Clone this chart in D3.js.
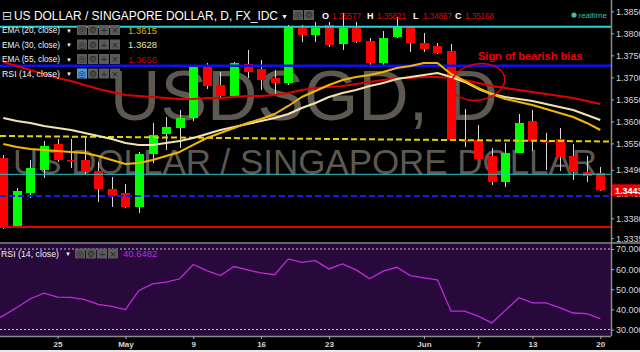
<!DOCTYPE html>
<html>
<head>
<meta charset="utf-8">
<script src="https://cdn.jsdelivr.net/npm/d3@7"></script>
<style>
body { margin: 0; background: #000; }
svg { display: block; font-family: "Liberation Sans", Arial, sans-serif; }
</style>
</head>
<body>
<script>
// daily candles, USD/SGD, 19 Apr - 20 Jun 2016
var dates = [
  "2016-04-19","2016-04-20","2016-04-21","2016-04-22","2016-04-25","2016-04-26","2016-04-27","2016-04-28","2016-04-29",
  "2016-05-02","2016-05-03","2016-05-04","2016-05-05","2016-05-06","2016-05-09","2016-05-10","2016-05-11","2016-05-12","2016-05-13",
  "2016-05-16","2016-05-17","2016-05-18","2016-05-19","2016-05-20","2016-05-23","2016-05-24","2016-05-25","2016-05-26","2016-05-27",
  "2016-05-30","2016-05-31","2016-06-01","2016-06-02","2016-06-03","2016-06-06","2016-06-07","2016-06-08","2016-06-09","2016-06-10",
  "2016-06-13","2016-06-14","2016-06-15","2016-06-16","2016-06-17","2016-06-20"
];
var opens = [1.35169,1.33603,1.34375,1.34897,1.35487,1.35124,1.35124,1.34874,1.34466,
  1.34375,1.34057,1.35260,1.35714,1.35850,1.36077,1.37235,1.36826,1.36577,1.37303,
  1.37190,1.36985,1.36872,1.38120,1.37961,1.38188,1.37757,1.38120,1.37825,1.37326,
  1.37916,1.38143,1.37780,1.37712,1.37598,1.35578,1.35578,1.35215,1.34625,1.35283,
  1.36009,1.35555,1.35601,1.35215,1.34852,1.34829];
var highs = [1.35237,1.34488,1.35124,1.35555,1.35601,1.35601,1.35646,1.35079,1.34738,
  1.34579,1.35306,1.35964,1.36100,1.36259,1.37280,1.37326,1.37122,1.37349,1.37621,
  1.37394,1.37167,1.38188,1.38188,1.38257,1.38257,1.38461,1.38257,1.37893,1.38052,
  1.38370,1.38166,1.38007,1.37780,1.37757,1.36282,1.35918,1.35396,1.35510,1.36168,
  1.36259,1.35737,1.35850,1.35487,1.35215,1.34965];
var lows = [1.33558,1.33580,1.34261,1.34715,1.35079,1.34942,1.34806,1.34171,1.34057,
  1.34034,1.33921,1.35056,1.35351,1.35396,1.36009,1.36736,1.36531,1.36554,1.36985,
  1.36713,1.36599,1.36826,1.37803,1.37803,1.37689,1.37621,1.37780,1.37235,1.37235,
  1.37893,1.37576,1.37576,1.37530,1.35555,1.35419,1.35147,1.34556,1.34511,1.35283,
  1.35328,1.34897,1.34874,1.34670,1.34625,1.34420];
var closes = [1.33626,1.34420,1.34942,1.35442,1.35124,1.35101,1.34852,1.34466,1.34307,
  1.34057,1.35260,1.35691,1.35873,1.36077,1.37235,1.36804,1.36577,1.37326,1.37122,
  1.36940,1.36872,1.38143,1.37961,1.38120,1.37734,1.38120,1.37803,1.37326,1.37893,
  1.38143,1.37780,1.37644,1.37553,1.35578,1.35555,1.35147,1.34625,1.35283,1.35964,
  1.35555,1.35533,1.35192,1.34852,1.34761,1.34435];

var ema20 = [1.35487,1.35419,1.35374,1.35351,1.35328,1.35306,1.35283,1.35215,1.35124,
  1.35033,1.35056,1.35124,1.35215,1.35306,1.35465,1.35623,1.35737,1.35850,1.35964,
  1.36055,1.36168,1.36350,1.36554,1.36690,1.36826,1.36940,1.37008,1.37054,1.37122,
  1.37212,1.37258,1.37326,1.37326,1.37076,1.36917,1.36758,1.36622,1.36509,1.36441,
  1.36373,1.36282,1.36191,1.36100,1.35964,1.35805];
var ema30 = [1.36077,1.36009,1.35964,1.35896,1.35850,1.35805,1.35737,1.35669,1.35601,
  1.35510,1.35465,1.35465,1.35510,1.35555,1.35623,1.35714,1.35805,1.35873,1.35941,
  1.36009,1.36077,1.36168,1.36304,1.36418,1.36554,1.36645,1.36713,1.36804,1.36872,
  1.36963,1.37008,1.37054,1.37099,1.37008,1.36895,1.36736,1.36622,1.36554,1.36509,
  1.36463,1.36395,1.36327,1.36259,1.36146,1.36032];
var ema55 = [1.37349,1.37258,1.37167,1.37076,1.36985,1.36917,1.36826,1.36736,1.36668,
  1.36599,1.36577,1.36554,1.36531,1.36509,1.36509,1.36531,1.36531,1.36554,1.36577,
  1.36577,1.36599,1.36645,1.36713,1.36758,1.36781,1.36804,1.36849,1.36895,1.36940,
  1.36985,1.36985,1.37008,1.37008,1.36985,1.36940,1.36872,1.36804,1.36758,1.36713,
  1.36668,1.36622,1.36577,1.36531,1.36463,1.36395];
var rsi14 = [35.9,40.9,45.3,48.1,46.1,46.0,44.8,42.5,41.5,
  39.9,49.4,52.7,53.5,55.2,62.3,59.3,56.8,61.3,59.6,
  58.1,57.2,65.1,63.4,64.2,60.1,62.6,59.6,55.2,59.0,
  60.9,56.8,55.7,54.7,39.1,39.1,36.6,33.3,39.5,45.8,
  43.2,43.2,40.9,38.2,37.9,35.4];

// drawn levels
var cyanLevels = [1.38150, 1.34799];
var blueLevel = 1.37265;
var blueDashLevel = 1.34307;
var redLevel = 1.33603;
var yellowTrend = [1.35669, 1.35544];   // left edge, right edge

var priceTicks = [1.385, 1.38, 1.375, 1.37, 1.365, 1.36, 1.355, 1.349, 1.3435, 1.338, 1.3335];
var rsiTicks = [70, 60, 50, 40, 30];
var rsiBands = [70, 30];
var xTickDates = ["2016-04-25","2016-05-02","2016-05-09","2016-05-16","2016-05-23","2016-06-01","2016-06-07","2016-06-13","2016-06-20"];
var xTickLabels = ["25","May","9","16","23","Jun","7","13","20"];

var title = "US DOLLAR / SINGAPORE DOLLAR, D, FX_IDC";
var ohlcLabels = ["O","H","L","C"];
var ohlcValues = ["1.35577","1.35821","1.34867","1.35168"];
var legendLabels = ["EMA (20, close)","EMA (30, close)","EMA (55, close)"];
var legendValues = ["1.3615","1.3628","1.3656"];
var rsiLabel = "RSI (14, close)";
var rsiValue = "40.6482";
var lastPrice = 1.34435;

var svgWidth = 640, svgHeight = 352;
var plotRight = 611, priceBottom = 243, rsiTop = 244, rsiBottom = 336;
var emaColors = ["#f2b705", "#f3e3b0", "#e00000"];
var valueColors = ["#e8a800", "#efe0a6", "#c40000"];
var ghost = "#5d5950";

var svg = d3.select("body").append("svg")
    .attr("width", svgWidth)
    .attr("height", svgHeight)
    .style("background", "#000");

var defs = svg.append("defs");
defs.append("clipPath").attr("id", "priceClip")
    .append("rect").attr("x", 0).attr("y", 0).attr("width", plotRight).attr("height", priceBottom);
defs.append("clipPath").attr("id", "rsiClip")
    .append("rect").attr("x", 0).attr("y", rsiTop).attr("width", plotRight).attr("height", rsiBottom - rsiTop);

var x = d3.scalePoint().domain(dates).range([3.3, 600.3]);
var y = d3.scaleLinear().domain([1.33, 1.39]).range([253.55, -10.75]);
var yr = d3.scaleLinear().domain([30, 70]).range([329.5, 249]);
var idx = d3.range(dates.length);

// watermark
var wm = svg.append("g").attr("clip-path", "url(#priceClip)");
wm.append("text").attr("x", 110).attr("y", 120)
    .attr("font-size", 70).attr("fill", ghost)
    .attr("textLength", 388).attr("lengthAdjust", "spacingAndGlyphs")
    .text("USDSGD, D");
wm.append("text").attr("x", 13).attr("y", 174)
    .attr("font-size", 35).attr("fill", ghost)
    .attr("textLength", 584).attr("lengthAdjust", "spacingAndGlyphs")
    .text("US DOLLAR / SINGAPORE DOLLAR");

// candles
var cg = svg.append("g").attr("clip-path", "url(#priceClip)");
cg.selectAll("line.wick").data(idx).join("line")
    .attr("class", "wick")
    .attr("x1", i => Math.round(x(dates[i])) + 0.5)
    .attr("x2", i => Math.round(x(dates[i])) + 0.5)
    .attr("y1", i => y(highs[i]))
    .attr("y2", i => y(lows[i]))
    .attr("stroke", "#d8d8d8")
    .attr("stroke-width", 1);
cg.selectAll("rect.body").data(idx).join("rect")
    .attr("class", "body")
    .attr("x", i => Math.round(x(dates[i])) - 4)
    .attr("width", 9)
    .attr("y", i => y(Math.max(opens[i], closes[i])))
    .attr("height", i => Math.max(1.5, Math.abs(y(opens[i]) - y(closes[i]))))
    .attr("fill", i => closes[i] >= opens[i] ? "#00ff00" : "#ff0000");

// horizontal levels
var lv = svg.append("g").attr("clip-path", "url(#priceClip)");
lv.append("line").attr("x1", 0).attr("x2", plotRight)
    .attr("y1", y(cyanLevels[0])).attr("y2", y(cyanLevels[0]))
    .attr("stroke", "#27d3d6").attr("stroke-width", 2);
lv.append("line").attr("x1", 0).attr("x2", plotRight)
    .attr("y1", y(cyanLevels[1])).attr("y2", y(cyanLevels[1]))
    .attr("stroke", "#27c8cc").attr("stroke-width", 1);
lv.append("line").attr("x1", 0).attr("x2", plotRight)
    .attr("y1", y(blueLevel)).attr("y2", y(blueLevel))
    .attr("stroke", "#1010ee").attr("stroke-width", 2.5);
lv.append("line").attr("x1", 0).attr("x2", plotRight)
    .attr("y1", y(blueDashLevel)).attr("y2", y(blueDashLevel))
    .attr("stroke", "#1818e8").attr("stroke-width", 2)
    .attr("stroke-dasharray", "6,3");
lv.append("line").attr("x1", 0).attr("x2", plotRight)
    .attr("y1", y(redLevel)).attr("y2", y(redLevel))
    .attr("stroke", "#e80000").attr("stroke-width", 2);
lv.append("line").attr("x1", 0).attr("x2", plotRight)
    .attr("y1", y(yellowTrend[0])).attr("y2", y(yellowTrend[1]))
    .attr("stroke", "#e6d200").attr("stroke-width", 2)
    .attr("stroke-dasharray", "6,3");

// moving averages
var line = d3.line()
    .x((d, i) => x(dates[i]))
    .y(d => y(d));
[ema55, ema30, ema20].forEach(function(s, k) {
  lv.append("path")
    .datum(s)
    .attr("fill", "none")
    .attr("stroke", emaColors[2 - k])
    .attr("stroke-width", 2)
    .attr("stroke-linejoin", "round")
    .attr("d", line);
});

// annotation
svg.append("ellipse")
    .attr("cx", 478).attr("cy", 82).attr("rx", 27).attr("ry", 18)
    .attr("transform", "rotate(-10,478,82)")
    .attr("fill", "none").attr("stroke", "#e00000").attr("stroke-width", 1.5);
svg.append("text")
    .attr("x", 478).attr("y", 60)
    .attr("font-size", 11).attr("font-weight", "bold").attr("fill", "#ee0000")
    .text("Sign of bearish bias");

// RSI pane
svg.append("rect").attr("x", 0).attr("y", rsiTop).attr("width", plotRight).attr("height", rsiBottom - rsiTop)
    .attr("fill", "#28093c");
svg.append("line").attr("x1", 0).attr("x2", svgWidth).attr("y1", 243).attr("y2", 243)
    .attr("stroke", "#8a8a8a").attr("stroke-width", 1.5);
var rg = svg.append("g").attr("clip-path", "url(#rsiClip)");
rg.selectAll("line.band").data(rsiBands).join("line")
    .attr("x1", 0).attr("x2", plotRight)
    .attr("y1", d => yr(d)).attr("y2", d => yr(d))
    .attr("stroke", "#c8c8c8").attr("stroke-width", 1)
    .attr("stroke-dasharray", "2,2");
var rsiLine = d3.line()
    .x((d, i) => i === 0 ? 0 : x(dates[i]))
    .y(d => yr(d));
rg.append("path")
    .datum(rsi14)
    .attr("fill", "none")
    .attr("stroke", "#c02ad8")
    .attr("stroke-width", 1.3)
    .attr("d", rsiLine);

// frame
svg.append("line").attr("x1", plotRight + 0.5).attr("x2", plotRight + 0.5).attr("y1", 0).attr("y2", rsiBottom)
    .attr("stroke", "#8a8a8a").attr("stroke-width", 1.5);
svg.append("line").attr("x1", 0).attr("x2", plotRight).attr("y1", rsiBottom + 0.5).attr("y2", rsiBottom + 0.5)
    .attr("stroke", "#8a8a8a").attr("stroke-width", 1.5);
svg.append("rect").attr("x", 0).attr("y", 350).attr("width", svgWidth).attr("height", 2).attr("fill", "#e8e8e8");

// axes
function styleAxis(g) {
  g.select(".domain").remove();
  g.selectAll("line").attr("stroke", "#aaa");
  g.selectAll("text").attr("fill", "#d6d6d6").attr("font-size", 9)
    .attr("font-family", "'Liberation Sans', Arial, sans-serif");
}
svg.append("g")
    .attr("transform", "translate(" + plotRight + ",0)")
    .call(d3.axisRight(y).tickValues(priceTicks).tickFormat(d3.format(".5f")).tickSize(3).tickPadding(2))
    .call(styleAxis);
svg.append("g")
    .attr("transform", "translate(" + plotRight + ",0)")
    .call(d3.axisRight(yr).tickValues(rsiTicks).tickFormat(d3.format(".4f")).tickSize(3).tickPadding(2))
    .call(styleAxis);
svg.append("g")
    .attr("transform", "translate(0," + rsiBottom + ")")
    .call(d3.axisBottom(x).tickValues(xTickDates).tickFormat((d, i) => xTickLabels[i]).tickSize(3).tickPadding(2))
    .call(styleAxis)
    .selectAll("text").attr("font-weight", "bold").attr("font-size", 8);

// last price badge
var by = y(lastPrice);
svg.append("rect").attr("x", plotRight + 1).attr("y", by - 6).attr("width", svgWidth - plotRight).attr("height", 12)
    .attr("fill", "#ee0000");
svg.append("text").attr("x", 615).attr("y", by + 3.5)
    .attr("font-size", 9).attr("font-weight", "bold").attr("fill", "#fff")
    .text(d3.format(".5f")(lastPrice));

// legend / header
function icons(x0, yc, n, active) {
  var glyphs = ["\u25CE", "\u2699", "+", "\u00D7"];
  for (var k = 0; k < n; k++) {
    svg.append("rect").attr("x", x0 + k * 11).attr("y", yc - 5).attr("width", 10).attr("height", 10)
      .attr("fill", active && k === 0 ? "#4a9be0" : "#5b5b5b");
    svg.append("text").attr("x", x0 + k * 11 + 5).attr("y", yc + 3.2)
      .attr("text-anchor", "middle").attr("font-size", 9)
      .attr("font-family", "'DejaVu Sans', sans-serif")
      .attr("fill", "#262626").text(glyphs[k]);
  }
}
function rowLabel(x0, yc, text) {
  svg.append("text").attr("x", x0).attr("y", yc + 3.3)
    .attr("font-size", 9).attr("fill", "#f2f2f2")
    .attr("textLength", 58).attr("lengthAdjust", "spacingAndGlyphs")
    .text(text);
  svg.append("text").attr("x", x0 + 64).attr("y", yc + 2.5)
    .attr("font-size", 6).attr("fill", "#f2f2f2").text("\u25BC");
}

svg.append("text").attr("x", 2).attr("y", 19.5)
    .attr("font-size", 12).attr("fill", "#ddd")
    .attr("font-family", "'DejaVu Sans', sans-serif").text("\u229F");
svg.append("text").attr("x", 14).attr("y", 19.5)
    .attr("font-size", 12).attr("fill", "#fff")
    .attr("textLength", 264).attr("lengthAdjust", "spacingAndGlyphs")
    .text(title);
svg.append("text").attr("x", 281).attr("y", 18.5).attr("font-size", 7).attr("fill", "#fff").text("\u25BC");
icons(293, 15, 2, false);

var ohlcX = [322, 367, 413, 455];
ohlcLabels.forEach(function(l, k) {
  svg.append("text").attr("x", ohlcX[k]).attr("y", 18.5)
    .attr("font-size", 9).attr("font-weight", "bold").attr("fill", "#fff").text(l);
  svg.append("text").attr("x", ohlcX[k] + 10).attr("y", 18.5)
    .attr("font-size", 9).attr("fill", "#e00000")
    .attr("textLength", 29).attr("lengthAdjust", "spacingAndGlyphs")
    .text(ohlcValues[k]);
});
svg.append("circle").attr("cx", 574).attr("cy", 15).attr("r", 2.6).attr("fill", "#3cc29a");
svg.append("text").attr("x", 578.5).attr("y", 18).attr("font-size", 8).attr("fill", "#3cc29a").text("realtime");

var rowY = [30, 44.5, 59];
legendLabels.forEach(function(l, k) {
  rowLabel(2, rowY[k], l);
  icons(77, rowY[k], 4, false);
  svg.append("text").attr("x", 128).attr("y", rowY[k] + 3.5)
    .attr("font-size", 9.5).attr("fill", valueColors[k]).text(legendValues[k]);
});
rowLabel(2, 73.5, rsiLabel);
icons(77, 73.5, 4, true);

rowLabel(1, 253.5, rsiLabel);
icons(75, 253.5, 4, false);
svg.append("text").attr("x", 123).attr("y", 257)
    .attr("font-size", 9.5).attr("fill", "#c02ad8").text(rsiValue);
</script>
</body>
</html>
